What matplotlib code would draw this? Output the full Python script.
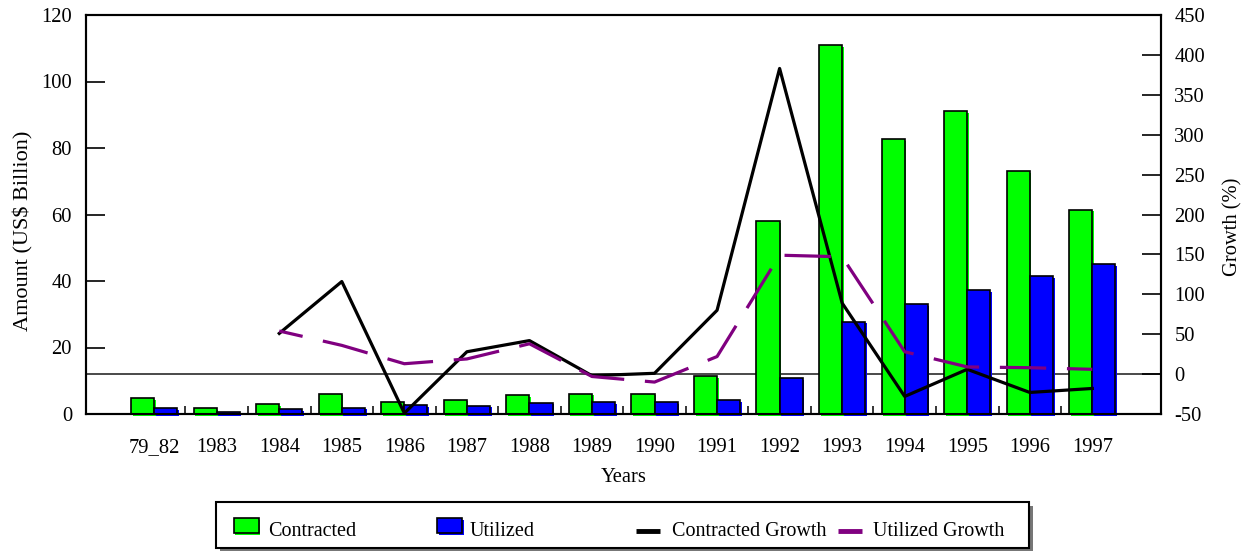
import matplotlib
matplotlib.use('Agg')
import matplotlib.pyplot as plt
import matplotlib.transforms as mtrans
from matplotlib.patches import Rectangle
from matplotlib.lines import Line2D
import numpy as np

plt.rcParams['font.family'] = ['Liberation Serif', 'DejaVu Serif']
plt.rcParams['axes.unicode_minus'] = False
FS = 14.8

# ---------------- data ----------------
years = ['79_82', '1983', '1984', '1985', '1986', '1987', '1988', '1989',
         '1990', '1991', '1992', '1993', '1994', '1995', '1996', '1997']
contracted = [4.8, 1.8, 3.0, 6.1, 3.6, 4.3, 5.6, 6.1,
              6.1, 11.4, 57.9, 111.0, 82.6, 91.1, 73.0, 61.4]
utilized = [1.8, 0.7, 1.4, 1.9, 2.6, 2.5, 3.4, 3.6,
            3.6, 4.1, 10.8, 27.7, 33.1, 37.3, 41.5, 45.1]
contracted_growth = [np.nan, np.nan, 51, 116, -49, 28, 42, -2,
                     1, 80, 383, 89, -28, 6, -23, -18]
utilized_growth = [np.nan, np.nan, 54, 36, 13, 19, 38, -3,
                   -10, 22, 149, 147, 28, 9, 8, 6]

amount_ticks = list(range(0, 121, 20))
growth_ticks = list(range(-50, 451, 50))

# ---------------- figure ----------------
W, H = 1248, 551
fig = plt.figure(figsize=(W / 100, H / 100), dpi=100)
fig.patch.set_facecolor('white')

def fx(px):
    return px / W

def fy(py):
    return 1 - py / H

ax1 = fig.add_axes([fx(86), fy(414), fx(1160.5) - fx(86), fy(15) - fy(414)])
ax2 = ax1.twinx()

x = np.arange(len(years))
bw = 0.37
GREEN = '#00ff00'
BLUE = '#0000ff'
PURPLE = '#800080'

off = mtrans.ScaledTranslation(1.6 / 100, -1.6 / 100, fig.dpi_scale_trans)

# zero growth reference line (behind bars)
blend = mtrans.blended_transform_factory(ax1.transAxes, ax2.transData)
ax1.plot([0, 1], [0, 0], transform=blend, color='#3a3a3a', lw=1.3, zorder=1)

# bars with slight misregistered fill like the original
ax1.bar(x - bw / 2, contracted, bw, color=GREEN, lw=0, zorder=2,
        transform=ax1.transData + off, clip_on=False)
ax1.bar(x - bw / 2, contracted, bw, color=GREEN, edgecolor='black', lw=1.2, zorder=3)
ax1.bar(x + bw / 2, utilized, bw, color=BLUE, lw=0, zorder=4,
        transform=ax1.transData + off, clip_on=False)
ax1.bar(x + bw / 2, utilized, bw, color=BLUE, edgecolor='black', lw=1.2, zorder=5)

# growth lines
ax2.plot(x, contracted_growth, color='black', lw=2.3, zorder=4)
ax2.plot(x, utilized_growth, color=PURPLE, lw=2.3, linestyle=(7, (14.5, 6.5)), zorder=5)

# axes limits / ticks
ax1.set_xlim(-1.09, 16.09)
ax1.set_ylim(0, 120)
ax2.set_ylim(-50, 450)
ax1.set_yticks(amount_ticks)
ax2.set_yticks(growth_ticks)
ax1.set_xticks(x)
ax1.set_xticklabels(years)
ax1.set_xticks(x[:-1] + 0.5, minor=True)

ax1.tick_params(axis='x', which='major', length=0, pad=17, labelsize=FS)
ax1.tick_params(axis='x', which='minor', direction='in', length=5.8, width=1.1)
ax1.tick_params(axis='y', direction='in', length=13.7, width=1.2, pad=10, labelsize=FS)
ax2.tick_params(axis='y', direction='in', length=13.7, width=1.2, pad=10, labelsize=FS)

for ax in (ax1, ax2):
    for s in ax.spines.values():
        s.set_linewidth(1.5)
        s.set_color('black')

ax1.set_xlabel('Years', fontsize=FS, labelpad=8)
ax1.set_ylabel('Amount (US$ Billion)', fontsize=16, va='center')
ax1.yaxis.set_label_coords((23 - 86) / 1074.5, 0.459)
ax2.set_ylabel('Growth (%)', fontsize=FS, va='center', rotation=90)
ax2.yaxis.set_label_coords((1233 - 86) / 1074.5, 0.47)

# ---------------- legend (drawn like the original boxed legend) ----------------
def frect(x0, y0, x1, y1, **kw):
    r = Rectangle((fx(x0), fy(y1)), fx(x1) - fx(x0), fy(y0) - fy(y1),
                  transform=fig.transFigure, **kw)
    fig.add_artist(r)
    return r

frect(220, 506, 1033, 552, facecolor='#777777', edgecolor='none', zorder=10)
frect(216, 502, 1029, 548, facecolor='white', edgecolor='black', lw=1.5, zorder=11)

legend_items = [
    ('Contracted', 'patch', GREEN, 233.6, 268),
    ('Utilized', 'patch', BLUE, 437, 470),
    ('Contracted Growth', 'line', 'black', 636, 672),
    ('Utilized Growth', 'line', PURPLE, 838, 873),
]
for label, kind, col, hx, tx in legend_items:
    if kind == 'patch':
        frect(hx + 1.6, 519.9, hx + 25 + 1.6, 534.9, facecolor=col, edgecolor='none', zorder=12)
        frect(hx, 518.3, hx + 25, 533.3, facecolor=col, edgecolor='black', lw=1.2, zorder=13)
    else:
        fig.add_artist(Line2D([fx(hx), fx(hx + 24)], [fy(530.7), fy(530.7)],
                              transform=fig.transFigure, color=col, lw=3.5,
                              solid_capstyle='butt', zorder=13))
    fig.text(fx(tx), fy(535.7), label, fontsize=14.5, ha='left', va='baseline', zorder=14)

fig.savefig('out.png', dpi=100, facecolor='white')
